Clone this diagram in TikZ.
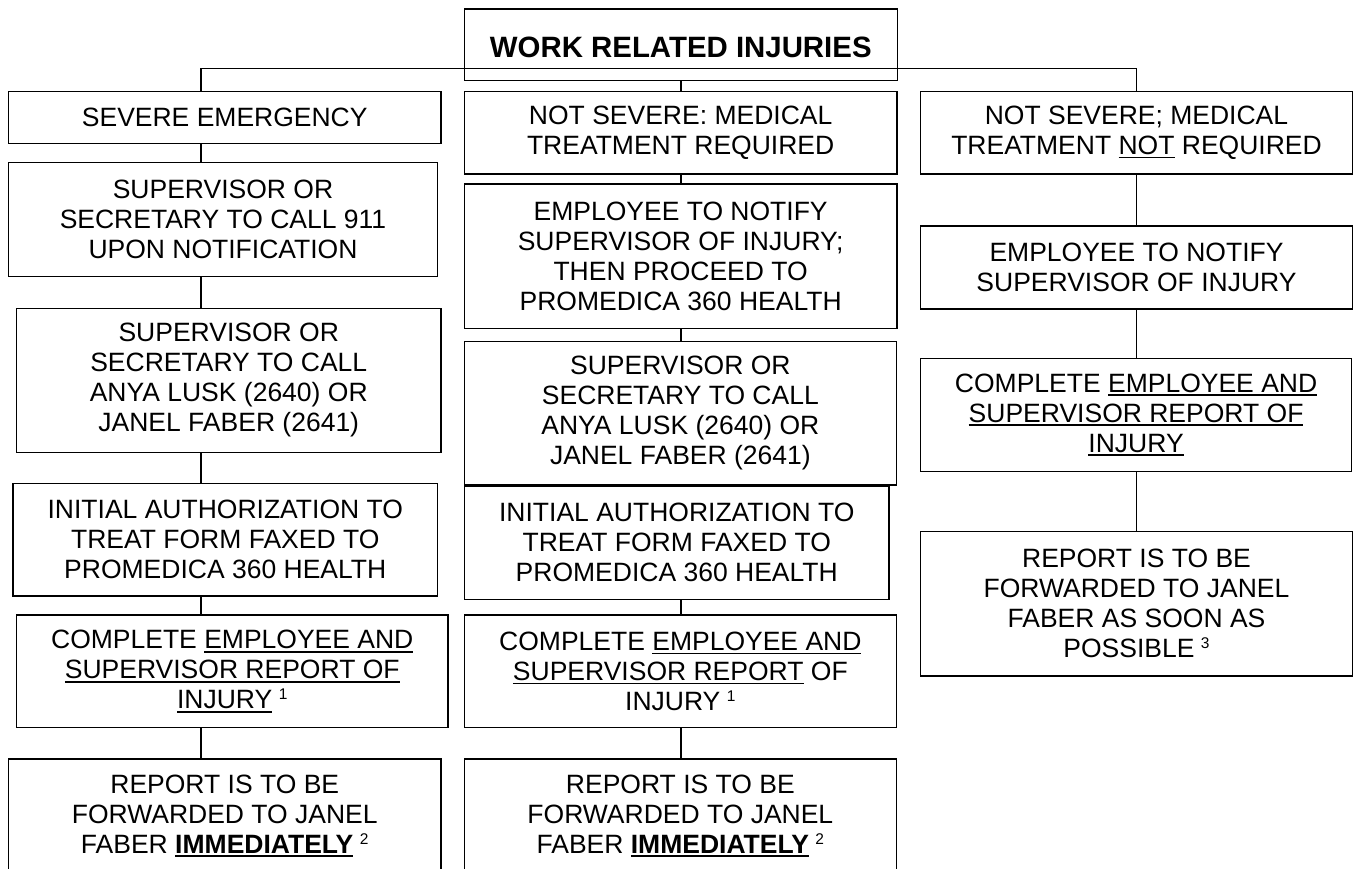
\documentclass[tikz,border=0pt]{standalone}
\usepackage{fontspec}
\setmainfont{Liberation Sans}
\newcommand{\mysup}[1]{\hspace{6.5pt}\raisebox{9pt}{\fontsize{15.5}{15.5}\selectfont #1}}
\newcommand{\myul}[1]{\leavevmode\setbox0\hbox{#1}\rlap{\rule[-3.9pt]{\wd0}{1.8pt}}\box0\relax}
\tikzset{
  box/.style={draw, line width=1.5pt, inner sep=0pt, align=center,
    font=\fontsize{26.5}{30}\selectfont},
  conn/.style={draw, line width=1.1pt}
}
\begin{document}
\begin{tikzpicture}[x=1pt,y=-1pt]
\useasboundingbox (0,0) rectangle (1355,869);
\clip (0,0) rectangle (1355,869);
% title
\node[box, minimum width=433, minimum height=71.7, font=\fontsize{29.4}{34}\selectfont\bfseries] (T) at (680.8,44.85)
  {\raisebox{-2.8pt}[\height][\depth]{WORK RELATED INJURIES}};
% left column
\node[box, minimum width=432.5, minimum height=51.6] (L1) at (224.75,117.5) {SEVERE EMERGENCY};
\node[box, minimum width=429, minimum height=114] (L2) at (223,219.7) {SUPERVISOR OR\\SECRETARY TO CALL 911\\UPON NOTIFICATION};
\node[box, minimum width=424.5, minimum height=144] (L3) at (228.75,380.3) {SUPERVISOR OR\\SECRETARY TO CALL\\ANYA LUSK (2640) OR\\JANEL FABER (2641)};
\node[box, minimum width=424.5, minimum height=112.7] (L4) at (225.25,539.65) {INITIAL AUTHORIZATION TO\\TREAT FORM FAXED TO\\PROMEDICA 360 HEALTH};
\node[box, minimum width=431.5, minimum height=112.7] (L5) at (232.25,671.35) {COMPLETE \myul{EMPLOYEE AND}\\\myul{SUPERVISOR REPORT OF}\\\myul{INJURY}\mysup{1}};
\node[box, minimum width=432.5, minimum height=114] (L6) at (224.75,816) {REPORT IS TO BE\\FORWARDED TO JANEL\\FABER \myul{\textbf{IMMEDIATELY}}\mysup{2}};
% middle column
\node[box, minimum width=432.7, minimum height=82.3] (M1) at (680.65,132.85) {NOT SEVERE: MEDICAL\\TREATMENT REQUIRED};
\node[box, minimum width=432.7, minimum height=144.3] (M2) at (680.65,256.15) {EMPLOYEE TO NOTIFY\\SUPERVISOR OF INJURY;\\THEN PROCEED TO\\PROMEDICA 360 HEALTH};
\node[box, minimum width=432.1, minimum height=143.3] (M3) at (680.35,413.35) {SUPERVISOR OR\\SECRETARY TO CALL\\ANYA LUSK (2640) OR\\JANEL FABER (2641)};
\node[box, minimum width=424.9, minimum height=113.3] (M4) at (676.75,542.65) {INITIAL AUTHORIZATION TO\\TREAT FORM FAXED TO\\PROMEDICA 360 HEALTH};
\node[box, minimum width=432.1, minimum height=112.7] (M5) at (680.35,671.35) {COMPLETE \myul{EMPLOYEE AND}\\\myul{SUPERVISOR REPORT} OF\\INJURY\mysup{1}};
\node[box, minimum width=432.1, minimum height=114] (M6) at (680.35,816) {REPORT IS TO BE\\FORWARDED TO JANEL\\FABER \myul{\textbf{IMMEDIATELY}}\mysup{2}};
% right column
\node[box, minimum width=431.6, minimum height=82.3] (R1) at (1136.5,132.85) {NOT SEVERE; MEDICAL\\TREATMENT \myul{NOT} REQUIRED};
\node[box, minimum width=431.6, minimum height=83] (R2) at (1136.5,267.5) {EMPLOYEE TO NOTIFY\\SUPERVISOR OF INJURY};
\node[box, minimum width=430.8, minimum height=113.4] (R3) at (1136.1,415) {COMPLETE \myul{EMPLOYEE AND}\\\myul{SUPERVISOR REPORT OF}\\\myul{INJURY}};
\node[box, minimum width=431.6, minimum height=144.3] (R4) at (1136.5,603.85) {REPORT IS TO BE\\FORWARDED TO JANEL\\FABER AS SOON AS\\POSSIBLE\mysup{3}};
% connectors
\coordinate (hl) at (201,68.3);
\coordinate (hr) at (1136.5,68.3);
\coordinate (mc) at (681,0);
\draw[conn] (hl) -- (hr);
\draw[conn] (hl) -- (L1.north -| hl);
\draw[conn] (hr) -- (R1.north -| hr);
\draw[conn] (T.south -| mc) -- (M1.north -| mc);
\draw[conn] (L1.south -| hl) -- (L2.north -| hl);
\draw[conn] (L2.south -| hl) -- (L3.north -| hl);
\draw[conn] (L3.south -| hl) -- (L4.north -| hl);
\draw[conn] (L4.south -| hl) -- (L5.north -| hl);
\draw[conn] (L5.south -| hl) -- (L6.north -| hl);
\draw[conn] (M1.south -| mc) -- (M2.north -| mc);
\draw[conn] (M2.south -| mc) -- (M3.north -| mc);
\draw[conn] (M4.south -| mc) -- (M5.north -| mc);
\draw[conn] (M5.south -| mc) -- (M6.north -| mc);
\draw[conn] (R1.south -| hr) -- (R2.north -| hr);
\draw[conn] (R2.south -| hr) -- (R3.north -| hr);
\draw[conn] (R3.south -| hr) -- (R4.north -| hr);
\end{tikzpicture}
\end{document}
